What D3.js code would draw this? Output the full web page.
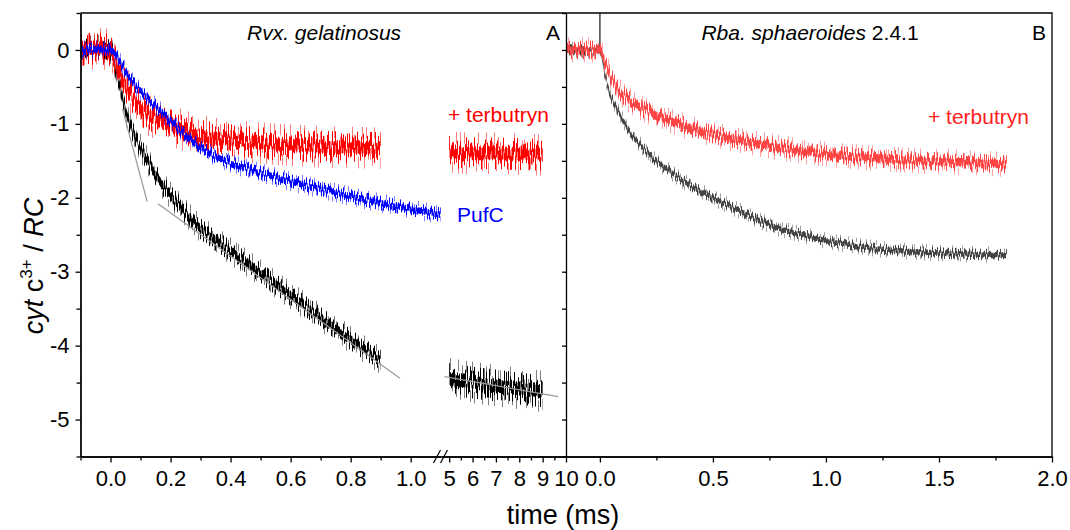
<!DOCTYPE html>
<html>
<head>
<meta charset="utf-8">
<script src="https://cdn.jsdelivr.net/npm/d3@7"></script>
<style>
  body { margin: 0; background: #fff; }
  text { font-family: "Liberation Sans", Arial, sans-serif; }
</style>
</head>
<body>
<svg id="chart"></svg>
<script>
const width = 1070, height = 530

// tick values
const yTicks = [-5, -4, -3, -2, -1, 0]
const yMinor = [-5.5, -4.5, -3.5, -2.5, -1.5, -0.5, 0.5]
const xTicksA = [0, 0.2, 0.4, 0.6, 0.8, 1.0]
const xMinorA = [-0.1, 0.1, 0.3, 0.5, 0.7, 0.9]
const xTicksLate = [5, 6, 7, 8, 9, 10]
const xMinorLate = [5.5, 6.5, 7.5, 8.5, 9.5]
const xTicksB = [0, 0.5, 1.0, 1.5, 2.0]
const xMinorB = [0.25, 0.75, 1.25, 1.75]

// panel A, Rvx. gelatinosus wild type (black), 0-1 ms
const rvxT = [-0.1, -0.05, 0, 0.02, 0.04, 0.06, 0.08, 0.1, 0.13, 0.16, 0.2, 0.25, 0.3, 0.35, 0.4, 0.45, 0.5, 0.55, 0.6, 0.65, 0.7, 0.75, 0.8, 0.85, 0.9]
const rvxWt = [0, 0.02, 0, -0.3, -0.65, -0.95, -1.15, -1.32, -1.55, -1.75, -1.97, -2.2, -2.42, -2.57, -2.72, -2.87, -3.02, -3.17, -3.32, -3.47, -3.62, -3.77, -3.92, -4.06, -4.2]
// + terbutryn (red)
const rvxTerbT = [-0.1, -0.05, 0, 0.02, 0.05, 0.08, 0.1, 0.15, 0.2, 0.25, 0.3, 0.4, 0.5, 0.6, 0.7, 0.8, 0.9]
const rvxTerb = [0, 0.02, 0, -0.2, -0.48, -0.68, -0.8, -0.93, -1.02, -1.1, -1.16, -1.22, -1.26, -1.29, -1.31, -1.32, -1.33]
// PufC mutant (blue)
const pufcT = [-0.1, -0.05, 0, 0.03, 0.06, 0.1, 0.15, 0.2, 0.25, 0.3, 0.35, 0.4, 0.45, 0.5, 0.6, 0.7, 0.8, 0.9, 1.0, 1.1]
const pufc = [0, 0, 0, -0.15, -0.36, -0.56, -0.76, -0.96, -1.15, -1.32, -1.44, -1.53, -1.6, -1.66, -1.78, -1.88, -1.98, -2.07, -2.15, -2.23]
// after the break, 5-9 ms
const lateT = [5, 6, 7, 8, 9]
const rvxWtLate = [-4.45, -4.5, -4.54, -4.58, -4.62]
const rvxTerbLate = [-1.38, -1.4, -1.4, -1.41, -1.42]
// linear fits (grey)
const fitFastT = [0.04, 0.122], fitFast = [-0.8, -2.05]
const fitSlowT = [0.158, 0.964], fitSlow = [-2.08, -4.44]
const fitLateT = [4.8, 9.67], fitLate = [-4.42, -4.69]

// panel B, Rba. sphaeroides 2.4.1
const rbaT = [-0.15, -0.05, 0, 0.02, 0.04, 0.08, 0.12, 0.17, 0.22, 0.3, 0.4, 0.5, 0.6, 0.7, 0.8, 0.9, 1.0, 1.1, 1.2, 1.4, 1.6, 1.8]
const rbaWt = [0, 0, 0, -0.3, -0.55, -0.82, -1.05, -1.25, -1.42, -1.62, -1.83, -2.0, -2.15, -2.3, -2.42, -2.5, -2.58, -2.63, -2.68, -2.73, -2.76, -2.77]
const rbaTerbT = [-0.15, -0.05, 0, 0.02, 0.05, 0.09, 0.13, 0.18, 0.25, 0.35, 0.45, 0.55, 0.7, 0.85, 1.0, 1.2, 1.4, 1.6, 1.8]
const rbaTerb = [0, 0, 0, -0.15, -0.38, -0.57, -0.68, -0.78, -0.88, -1.0, -1.1, -1.18, -1.27, -1.35, -1.41, -1.46, -1.5, -1.52, -1.55]
const spikeT = [0, 0], spike = [0.6, 0]

// noise half-width of each trace (cyt c3+/RC units)
const noiseRvxWt = 0.17, noiseRvxWtLate = 0.26, noiseRvxTerb = 0.26, noisePufc = 0.12
const noiseRbaWt = 0.1, noiseRbaTerb = 0.16

const plot = { left: 80.5, right: 1052, top: 13, bottom: 456.5, split: 566 }

const svg = d3.select('#chart').attr('width', width).attr('height', height)
const defs = svg.append('defs')

const y = d3.scaleLinear().domain([-5.5, 0.5]).range([plot.bottom, plot.top])
const xA = d3.scaleLinear().domain([-0.1, 1.1]).range([plot.left, 440.7])
const xLate = d3.scaleLinear().domain([4.65, 10]).range([441, plot.split])
const xB = d3.scaleLinear().domain([-0.15, 2.0]).range([plot.split, plot.right])

defs.append('clipPath').attr('id', 'clip')
    .append('rect')
    .attr('x', plot.left).attr('y', plot.top)
    .attr('width', plot.right - plot.left).attr('height', plot.bottom - plot.top)

let filterCount = 0
function noiseFilter(seed, freq, disp) {
    const id = 'nz' + (filterCount++)
    const f = defs.append('filter').attr('id', id)
        .attr('filterUnits', 'userSpaceOnUse')
        .attr('x', 0).attr('y', 0).attr('width', width).attr('height', height)
        .attr('color-interpolation-filters', 'sRGB')
    f.append('feTurbulence')
        .attr('type', 'fractalNoise')
        .attr('baseFrequency', freq + ' 0')
        .attr('numOctaves', 2)
        .attr('seed', seed)
        .attr('result', 'turb')
    const ct = f.append('feComponentTransfer').attr('in', 'turb').attr('result', 'map')
    ct.append('feFuncR').attr('type', 'linear').attr('slope', 0).attr('intercept', 0.5)
    ct.append('feFuncG').attr('type', 'linear').attr('slope', 4).attr('intercept', -1.5)
    ct.append('feFuncA').attr('type', 'linear').attr('slope', 0).attr('intercept', 1)
    f.append('feDisplacementMap')
        .attr('in', 'SourceGraphic').attr('in2', 'map')
        .attr('scale', disp / 0.45)
        .attr('xChannelSelector', 'R').attr('yChannelSelector', 'G')
    return 'url(#' + id + ')'
}

const traces = svg.append('g').attr('clip-path', 'url(#clip)')
let seed = 1

function band(x, ts, vs, half, disp, color, opacity, freq) {
    const pts = ts.map((t, i) => [x(t), y(vs[i])])
    const area = d3.area()
        .x(d => d[0])
        .y0(d => d[1] - half)
        .y1(d => d[1] + half)
        .curve(d3.curveMonotoneX)
    traces.append('g')
        .attr('filter', noiseFilter(seed++, freq, disp))
        .append('path')
        .attr('d', area(pts))
        .attr('fill', color)
        .attr('fill-opacity', opacity)
}

function trace(x, ts, vs, amp, color) {
    const ampPx = amp * (y(0) - y(1))
    band(x, ts, vs, ampPx * 0.3, ampPx * 0.7, color, 0.5, 0.5)
    band(x, ts, vs, ampPx * 0.36, ampPx * 0.4, color, 1, 0.65)
}

const line = (x) => d3.line().x((d) => x(d[0])).y((d) => y(d[1]))
const zip = (a, b) => a.map((t, i) => [t, b[i]])

// panel A
trace(xA, rvxT, rvxWt, noiseRvxWt, '#000000')
trace(xLate, lateT, rvxWtLate, noiseRvxWtLate, '#000000')
trace(xA, rvxTerbT, rvxTerb, noiseRvxTerb, '#ff0000')
trace(xLate, lateT, rvxTerbLate, noiseRvxTerb, '#ff0000')
trace(xA, pufcT, pufc, noisePufc, '#0000ff')

const fits = [[xA, fitFastT, fitFast], [xA, fitSlowT, fitSlow], [xLate, fitLateT, fitLate]]
fits.forEach(([x, ts, vs]) => {
    traces.append('path')
        .attr('d', line(x)(zip(ts, vs)))
        .attr('fill', 'none')
        .attr('stroke', '#9a9a9a')
        .attr('stroke-width', 1.2)
})

// panel B
traces.append('path')
    .attr('d', line(xB)(zip(spikeT, spike)))
    .attr('stroke', '#444444')
    .attr('stroke-width', 1.5)
trace(xB, rbaT, rbaWt, noiseRbaWt, '#444444')
trace(xB, rbaTerbT, rbaTerb, noiseRbaTerb, '#ff4444')

// axes
const font = '"Liberation Sans", Arial, sans-serif'
function styleAxis(g) {
    g.attr('font-size', 22).attr('font-family', font)
    g.selectAll('path, line').attr('stroke', '#000').attr('stroke-width', 1.3)
    g.selectAll('text').attr('fill', '#000')
}

svg.append('g')
    .attr('transform', `translate(${plot.left},0)`)
    .call(d3.axisLeft(y).tickValues(yTicks).tickSize(5).tickSizeOuter(0).tickPadding(6).tickFormat((d) => String(d)))
    .call(styleAxis)
svg.append('g')
    .attr('transform', `translate(${plot.left},0)`)
    .call(d3.axisLeft(y).tickValues(yMinor).tickSize(4).tickSizeOuter(0).tickFormat(''))
    .call(styleAxis)
svg.append('g')
    .attr('transform', `translate(${plot.split},0)`)
    .call(d3.axisLeft(y).tickValues(yTicks.concat(yMinor)).tickSize(4).tickSizeOuter(0).tickFormat(''))
    .call(styleAxis)

function bottom(x, major, minor, fmt) {
    svg.append('g')
        .attr('transform', `translate(0,${plot.bottom})`)
        .call(d3.axisBottom(x).tickValues(major).tickSize(6).tickSizeOuter(0).tickPadding(8).tickFormat(fmt))
        .call(styleAxis)
    svg.append('g')
        .attr('transform', `translate(0,${plot.bottom})`)
        .call(d3.axisBottom(x).tickValues(minor).tickSize(4).tickSizeOuter(0).tickFormat(''))
        .call(styleAxis)
}
bottom(xA, xTicksA, xMinorA, d3.format('.1f'))
bottom(xLate, xTicksLate, xMinorLate, (d) => String(d))
bottom(xB, xTicksB, xMinorB, d3.format('.1f'))

// frame: top and right borders
svg.append('path')
    .attr('d', `M${plot.left},${plot.top}H${plot.right}V${plot.bottom}`)
    .attr('fill', 'none').attr('stroke', '#000').attr('stroke-width', 1.3)

// axis break marks
const bx = xLate.range()[0]
;[-4, 3].forEach((dx) => {
    svg.append('line')
        .attr('x1', bx + dx - 3.5).attr('y1', plot.bottom + 6.5)
        .attr('x2', bx + dx + 3.5).attr('y2', plot.bottom - 6.5)
        .attr('stroke', '#000').attr('stroke-width', 1.2)
})

// labels
const labels = svg.append('g').attr('font-family', font)

labels.append('text')
    .attr('x', 247).attr('y', 40)
    .attr('font-size', 21).attr('font-style', 'italic')
    .text('Rvx. gelatinosus')
labels.append('text')
    .attr('x', 560).attr('y', 40).attr('text-anchor', 'end')
    .attr('font-size', 21)
    .text('A')

const tB = labels.append('text')
    .attr('x', 810).attr('y', 40).attr('text-anchor', 'middle')
    .attr('font-size', 21)
tB.append('tspan').attr('font-style', 'italic').text('Rba. sphaeroides')
tB.append('tspan').text(' 2.4.1')
labels.append('text')
    .attr('x', 1046).attr('y', 40).attr('text-anchor', 'end')
    .attr('font-size', 21)
    .text('B')

labels.append('text')
    .attr('x', 448).attr('y', 122)
    .attr('font-size', 21).attr('fill', '#ff0000')
    .text('+ terbutryn')
labels.append('text')
    .attr('x', 457).attr('y', 222)
    .attr('font-size', 21).attr('fill', '#0000ff')
    .text('PufC')
labels.append('text')
    .attr('x', 928).attr('y', 124)
    .attr('font-size', 21).attr('fill', '#ff2020')
    .text('+ terbutryn')

const yl = labels.append('text')
    .attr('transform', 'translate(43,266) rotate(-90)')
    .attr('text-anchor', 'middle')
    .attr('font-size', 27)
yl.append('tspan').attr('font-style', 'italic').text('cyt')
yl.append('tspan').text(' c')
yl.append('tspan').attr('font-size', 17).attr('dy', -11).text('3+')
yl.append('tspan').attr('dy', 11).text(' / ')
yl.append('tspan').attr('font-style', 'italic').text('RC')

labels.append('text')
    .attr('x', 563).attr('y', 524).attr('text-anchor', 'middle')
    .attr('font-size', 27)
    .text('time (ms)')
</script>
</body>
</html>
